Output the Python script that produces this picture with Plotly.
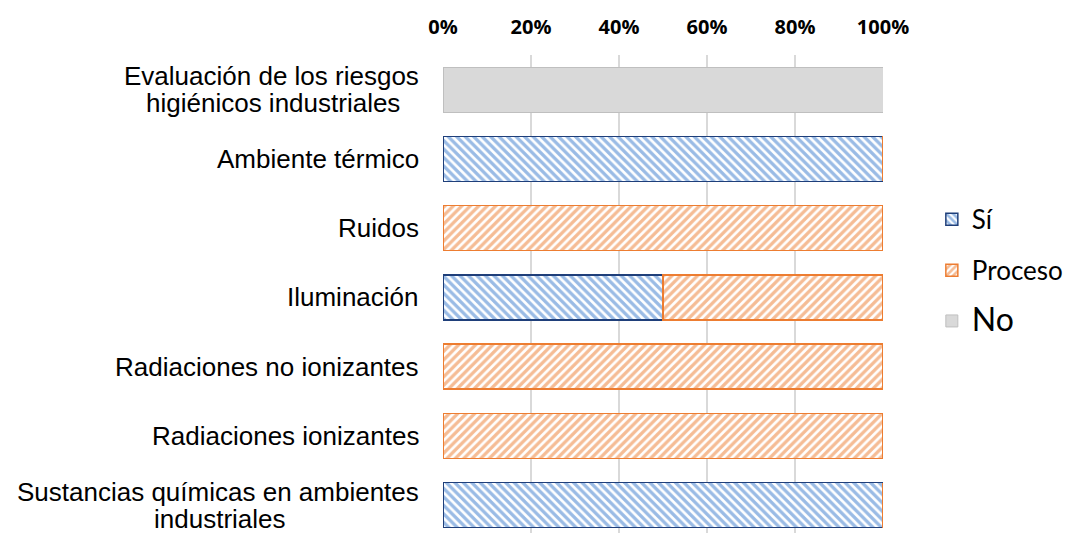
import plotly.graph_objects as go

categories = [
    "Evaluación de los riesgos<br>higiénicos industriales",
    "Ambiente térmico",
    "Ruidos",
    "Iluminación",
    "Radiaciones no ionizantes",
    "Radiaciones ionizantes",
    "Sustancias químicas en ambientes<br>industriales",
]
si = [0, 100, 0, 50, 0, 0, 100]
proceso = [0, 0, 100, 50, 100, 100, 0]
no = [100, 0, 0, 0, 0, 0, 0]
tick_vals = [0, 20, 40, 60, 80, 100]
tick_text = ["0%", "20%", "40%", "60%", "80%", "100%"]

ypos = list(range(len(categories)))

# approximate rendered width (px) of the first line of two-line labels, used to centre line 2
first_line_width = {0: 296, 6: 402}

fig = go.Figure()
fig.add_trace(go.Bar(
    y=ypos, x=si, orientation="h", name="Sí", width=0.65, legendgroup="a",
    marker=dict(color="white", line=dict(color="#1F3F7A", width=1.5),
                pattern=dict(shape="\\", fgcolor="#3578CC", bgcolor="white", size=6, solidity=0.55)),
))
fig.add_trace(go.Bar(
    y=ypos, x=proceso, orientation="h", name="Proceso", width=0.65, legendgroup="b",
    marker=dict(color="white", line=dict(color="#ED7D31", width=1.5),
                pattern=dict(shape="/", fgcolor="#EC7A2C", bgcolor="white", size=6, solidity=0.55)),
))
fig.add_trace(go.Bar(
    y=ypos, x=no, orientation="h", name="<span style='font-size:32px'>No</span>", width=0.65, legendgroup="c",
    marker=dict(color="#D9D9D9", line=dict(color="#BFBFBF", width=1)),
))

line_gap = 27
label_font = dict(family="Liberation Sans, Arial", size=26, color="#000000")
for i, c in enumerate(categories):
    lines = c.split("<br>")
    n = len(lines)
    for k, ln in enumerate(lines):
        shift = ((n - 1) / 2 - k) * line_gap
        if k == 0 or i not in first_line_width:
            fig.add_annotation(x=0, xref="paper", y=i, yref="y", text=ln, showarrow=False,
                               xanchor="right", xshift=-22, yshift=shift, font=label_font)
        else:
            fig.add_annotation(x=0, xref="paper", y=i, yref="y", text=ln, showarrow=False,
                               xanchor="center", xshift=-22 - first_line_width[i] / 2,
                               yshift=shift, font=label_font)

fig.update_layout(
    barmode="stack",
    width=1089, height=533,
    margin=dict(l=435, r=214, t=47, b=0, autoexpand=False),
    plot_bgcolor="white", paper_bgcolor="white",
    legend=dict(
        x=1.111, xanchor="left", y=0.71, yanchor="top",
        traceorder="grouped", tracegroupgap=14,
        font=dict(family="Lato, Open Sans", size=26, color="#000000"),
        itemwidth=30,
    ),
    xaxis=dict(
        side="top", range=[0, 100], tickvals=tick_vals, ticktext=tick_text,
        showgrid=True, gridcolor="#D9D9D9", gridwidth=1.5, zeroline=False,
        showline=False, ticks="", ticklabelstandoff=16,
        tickfont=dict(family="Open Sans", size=20, color="#000000", weight="bold"),
    ),
    yaxis=dict(
        range=[6.52, -0.5], showticklabels=False, showgrid=False, zeroline=False,
        showline=False,
    ),
)

fig.write_html("out.html")
